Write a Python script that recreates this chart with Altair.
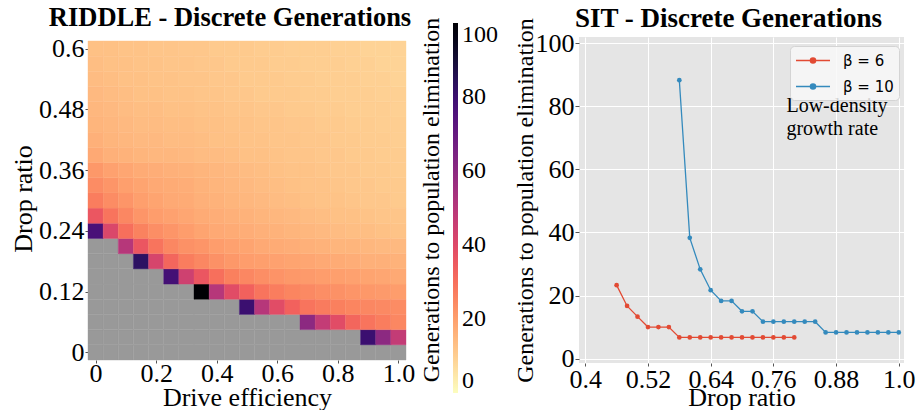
import altair as alt
import pandas as pd

N = None
SERIF = "Liberation Serif"

# ---------------- Heatmap data (RIDDLE) ----------------
drive_efficiency = [0.0, 0.05, 0.1, 0.15, 0.2, 0.25, 0.3, 0.35, 0.4, 0.45, 0.5,
                    0.55, 0.6, 0.65, 0.7, 0.75, 0.8, 0.85, 0.9, 0.95, 1.0]
drop_ratio = [0.0, 0.03, 0.06, 0.09, 0.12, 0.15, 0.18, 0.21, 0.24, 0.27, 0.3,
              0.33, 0.36, 0.39, 0.42, 0.45, 0.48, 0.51, 0.54, 0.57, 0.6]

gen_r00 = [N, N, N, N, N, N, N, N, N, N, N, N, N, N, N, N, N, N, N, N, N]
gen_r01 = [N, N, N, N, N, N, N, N, N, N, N, N, N, N, N, N, N, N, 80, 60, 47]
gen_r02 = [N, N, N, N, N, N, N, N, N, N, N, N, N, N, 60, 47, 39, 32, 29, 27, 25]
gen_r03 = [N, N, N, N, N, N, N, N, N, N, 80, 50, 39, 33, 29, 27.5, 26.5, 25.5, 25, 24.5, 24]
gen_r04 = [N, N, N, N, N, N, N, 100, 50, 39, 33, 29, 27, 25.5, 24.5, 23.5, 23, 22, 21.5, 21, 20.5]
gen_r05 = [N, N, N, N, N, 78, 44, 36, 30, 26.5, 25, 23.5, 22.5, 21.5, 21, 20.5, 20, 19.5, 19, 18.5, 18]
gen_r06 = [N, N, N, 83, 42, 32, 27, 25, 23, 21.5, 20.5, 20, 19.5, 19, 18.5, 18, 17.5, 17, 16.5, 16.5, 16]
gen_r07 = [N, N, 50, 36, 29, 25, 23, 22, 20.5, 19.5, 19, 18, 17.5, 17, 16.5, 16, 15.5, 15.5, 15, 14.5, 14.5]
gen_r08 = [77, 41, 30, 26, 23.5, 22, 20.5, 19, 18, 17.5, 17, 16.5, 16, 15.5, 15, 14.5, 14, 13.5, 13.5, 13, 12.5]
gen_r09 = [36, 29, 25, 22, 20.5, 19.5, 18.5, 17.5, 17, 16.5, 16, 15.5, 15, 14.5, 14, 13.5, 13, 13, 12.5, 12, 12]
gen_r10 = [27, 24, 22, 20, 19, 18, 17.5, 16.5, 16, 15.5, 15, 14.5, 14, 13.5, 13, 12.5, 12.5, 12, 11.5, 11.5, 11]
gen_r11 = [24, 22, 20, 19, 18, 17.5, 17, 16, 15.5, 15, 14.5, 14, 13.5, 13, 12.5, 12.5, 12, 11.5, 11.5, 11, 11]
gen_r12 = [21.5, 19.5, 18.5, 17.5, 17, 16.5, 16, 15.5, 15, 14.5, 14, 13.5, 13, 12.5, 12.5, 12, 11.5, 11.5, 11, 11, 10.5]
gen_r13 = [18, 16.5, 16, 15.5, 15, 15, 14.5, 14, 14, 13.5, 13, 13, 12.5, 12, 12, 11.5, 11.5, 11, 11, 10.5, 10.5]
gen_r14 = [16.5, 15.5, 15, 14.5, 14.5, 14, 14, 13.5, 13, 13, 12.5, 12.5, 12, 12, 11.5, 11.5, 11, 11, 10.5, 10.5, 10]
gen_r15 = [15.5, 15, 14.5, 14, 14, 13.5, 13.5, 13, 13, 12.5, 12.5, 12, 12, 11.5, 11.5, 11, 11, 10.5, 10.5, 10, 10]
gen_r16 = [15, 14.5, 14, 13.5, 13.5, 13, 13, 12.5, 12.5, 12, 12, 11.5, 11.5, 11, 11, 10.5, 10.5, 10, 10, 10, 9.5]
gen_r17 = [14.5, 14, 13.5, 13, 13, 12.5, 12.5, 12, 12, 11.5, 11.5, 11, 11, 11, 10.5, 10.5, 10, 10, 10, 9.5, 9.5]
gen_r18 = [14, 13.5, 13, 13, 12.5, 12.5, 12, 12, 11.5, 11.5, 11, 11, 11, 10.5, 10.5, 10, 10, 10, 9.5, 9.5, 9]
gen_r19 = [13.5, 13, 13, 12.5, 12.5, 12, 12, 11.5, 11.5, 11, 11, 11, 10.5, 10.5, 10, 10, 10, 9.5, 9.5, 9, 9]
gen_r20 = [13, 13, 12.5, 12.5, 12, 12, 11.5, 11.5, 11, 11, 11, 10.5, 10.5, 10, 10, 10, 9.5, 9.5, 9, 9, 9]

heat_rows = [gen_r00, gen_r01, gen_r02, gen_r03, gen_r04, gen_r05, gen_r06, gen_r07,
             gen_r08, gen_r09, gen_r10, gen_r11, gen_r12, gen_r13, gen_r14, gen_r15,
             gen_r16, gen_r17, gen_r18, gen_r19, gen_r20]

heat_x_ticks = [0, 0.2, 0.4, 0.6, 0.8, 1.0]
heat_y_ticks = [0, 0.12, 0.24, 0.36, 0.48, 0.6]
cbar_ticks = [0, 20, 40, 60, 80, 100]
cbar_title = ["Generations to population elimination"]

# ---------------- Line data (SIT) ----------------
sit_drop_b6 = [0.46, 0.48, 0.50, 0.52, 0.54, 0.56, 0.58, 0.60, 0.62, 0.64, 0.66, 0.68,
               0.70, 0.72, 0.74, 0.76, 0.78, 0.80]
sit_gen_b6 = [23.3, 16.7, 13.3, 10, 10, 10, 6.7, 6.7, 6.7, 6.7, 6.7, 6.7,
              6.7, 6.7, 6.7, 6.7, 6.7, 6.7]
sit_drop_b10 = [0.58, 0.60, 0.62, 0.64, 0.66, 0.68, 0.70, 0.72, 0.74, 0.76, 0.78, 0.80,
                0.82, 0.84, 0.86, 0.88, 0.90, 0.92, 0.94, 0.96, 0.98, 1.00]
sit_gen_b10 = [88.3, 38.3, 28.3, 21.7, 18.3, 18.3, 15, 15, 11.7, 11.7, 11.7, 11.7,
               11.7, 11.7, 8.3, 8.3, 8.3, 8.3, 8.3, 8.3, 8.3, 8.3]
series_names = ["β = 6", "β = 10"]
series_colors = ["#E24A33", "#348ABD"]
sit_x_ticks = [0.4, 0.52, 0.64, 0.76, 0.88, 1.0]
sit_y_ticks = [0, 20, 40, 60, 80, 100]
annotation_text = ["Low-density\ngrowth rate"]

# ---------------- Build tables ----------------
records = []
for dr, row in zip(drop_ratio, heat_rows):
    for de, g in zip(drive_efficiency, row):
        records.append({"drive": de, "drop": dr, "gen": g})
heat_df = pd.DataFrame(records)

sit_df = pd.concat([
    pd.DataFrame({"drop": sit_drop_b6, "gen": sit_gen_b6, "series": series_names[0]}),
    pd.DataFrame({"drop": sit_drop_b10, "gen": sit_gen_b10, "series": series_names[1]}),
], ignore_index=True)
ann_df = pd.DataFrame({"x": [0.785], "y": [78.2], "t": annotation_text})
cbar_df = pd.DataFrame({"t": cbar_title})

LABEL_EXPR = "datum.value == 1 ? '1.0' : format(datum.value, '.2~f')"

# ---------------- Left: heatmap ----------------
heat_base = alt.Chart(heat_df).transform_calculate(
    x_lo="datum.drive - 0.025", x_hi="datum.drive + 0.025",
    y_lo="datum.drop - 0.015", y_hi="datum.drop + 0.015",
)
x_heat = alt.X(
    "x_lo:Q",
    scale=alt.Scale(domain=[-0.025, 1.025], nice=False, zero=False),
    axis=alt.Axis(values=heat_x_ticks, labelExpr=LABEL_EXPR,
                  title="Drive efficiency", grid=False, labelPadding=-3, titlePadding=-2),
)
y_heat = alt.Y(
    "y_lo:Q",
    scale=alt.Scale(domain=[-0.015, 0.6229], nice=False, zero=False),
    axis=alt.Axis(values=heat_y_ticks, labelExpr=LABEL_EXPR, title="Drop ratio",
                  grid=False, labelPadding=1, titlePadding=2),
)
gray = heat_base.transform_filter("!isValid(datum.gen)").mark_rect(
    color="#999999", stroke="#999999", strokeWidth=0.4
).encode(x=x_heat, x2="x_hi:Q", y=y_heat, y2="y_hi:Q")

cscale = alt.Scale(scheme="magma", reverse=True, domain=[0, 100])
colored = heat_base.transform_filter("isValid(datum.gen)").mark_rect(strokeWidth=0.4).encode(
    x=x_heat, x2="x_hi:Q", y=y_heat, y2="y_hi:Q",
    color=alt.Color(
        "gen:Q", scale=cscale,
        legend=alt.Legend(
            title=None, orient="none",
            legendX=365, legendY=-14, direction="vertical",
            gradientLength=370, gradientThickness=5, gradientStrokeWidth=0,
            labelFont=SERIF, labelFontSize=24, labelColor="black", labelBaseline="middle",
            labelOffset=4, values=cbar_ticks, labelOverlap=False, padding=0,
        ),
    ),
    stroke=alt.Stroke("gen:Q", scale=cscale, legend=None),
)
cbar_text = alt.Chart(cbar_df).mark_text(
    angle=270, font=SERIF, fontSize=24, align="center", baseline="middle", color="black"
).encode(x=alt.value(344), y=alt.value(163), text="t:N")

left = alt.layer(gray, colored, cbar_text).properties(
    width=318, height=323,
    title=alt.TitleParams("RIDDLE - Discrete Generations", font=SERIF, fontSize=26.5,
                          fontWeight="bold", color="black", dx=-17, offset=-14,
                          frame="group"),
    view=alt.ViewBackground(strokeWidth=0),
)

# ---------------- Right: SIT lines ----------------
x_sit = alt.X(
    "drop:Q", scale=alt.Scale(domain=[0.388, 1.01], nice=False, zero=False),
    axis=alt.Axis(values=sit_x_ticks, labelExpr=LABEL_EXPR,
                  title="Drop ratio", grid=True, gridColor="white", gridWidth=1,
                  labelPadding=0, titlePadding=-8),
)
y_sit = alt.Y(
    "gen:Q", scale=alt.Scale(domain=[-1.4, 102], nice=False, zero=False),
    axis=alt.Axis(values=sit_y_ticks, title="Generations to population elimination",
                  titleFontSize=24, grid=True, gridColor="white", gridWidth=1,
                  labelPadding=1, titlePadding=-2, tickSize=4),
)
lines = alt.Chart(sit_df).mark_line(
    strokeWidth=1.3, point=alt.OverlayMarkDef(size=22, filled=True, opacity=1)
).encode(
    x=x_sit, y=y_sit,
    color=alt.Color(
        "series:N", scale=alt.Scale(domain=series_names, range=series_colors),
        legend=alt.Legend(
            title=None, orient="none", legendX=211, legendY=9,
            labelFont="DejaVu Sans", labelFontSize=15, labelColor="black",
            symbolType="M-1,0L3,0M1.3,0A0.3,0.3 0 1,1 0.7,0A0.3,0.3 0 1,1 1.3,0",
            symbolSize=289, symbolStrokeWidth=1.5, rowPadding=8,
            fillColor="rgba(248,248,248,0.85)", strokeColor="#d4d4d4", cornerRadius=4,
            padding=5, labelOffset=29,
        ),
    ),
)
ann = alt.Chart(ann_df).mark_text(
    align="left", baseline="alphabetic", font=SERIF, fontSize=20, lineHeight=23,
    lineBreak="\n", color="black",
).encode(x="x:Q", y="y:Q", text="t:N")

right = alt.layer(lines, ann).properties(
    width=325, height=326,
    title=alt.TitleParams("SIT - Discrete Generations", font=SERIF, fontSize=27,
                          fontWeight="bold", color="black", dx=-13, offset=-15.5,
                          frame="group"),
    view=alt.ViewBackground(fill="#e5e5e5", strokeWidth=0),
)

chart = alt.hconcat(left, right, spacing=15).resolve_scale(color="independent").configure(
    padding={"left": 10, "top": 5, "right": 0, "bottom": 0},
    background="white",
).configure_axis(
    labelFont=SERIF, titleFont=SERIF, labelFontSize=26, titleFontSize=26,
    titleFontWeight="normal", labelColor="black", titleColor="black",
    domain=False, tickColor="#555555", tickSize=3,
)

chart.save("out.html", embed_options={"renderer": "svg", "actions": False})
